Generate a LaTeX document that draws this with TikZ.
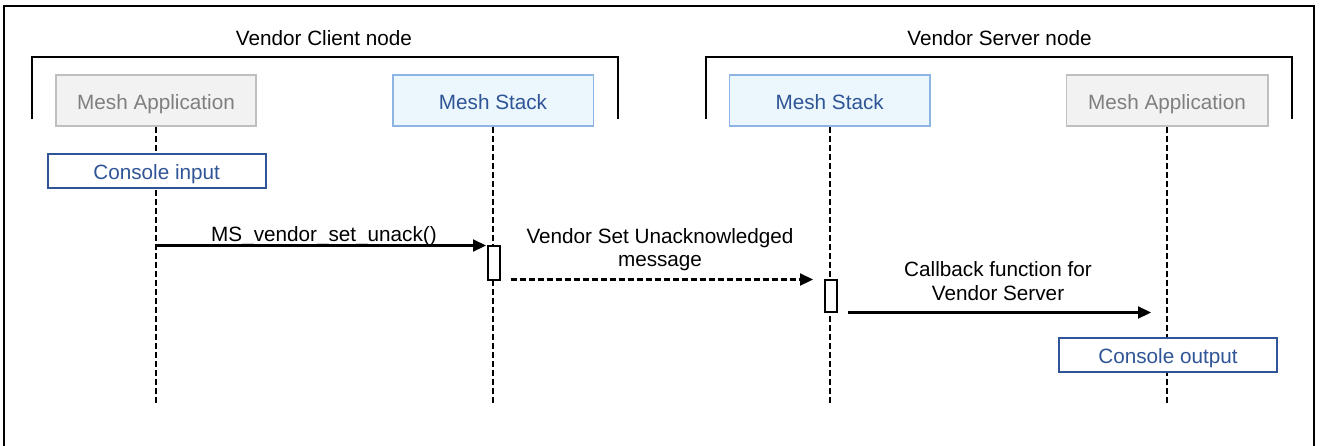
\documentclass[tikz,border=0pt]{standalone}
\usepackage{fontspec}
\setmainfont{Liberation Sans}
\usetikzlibrary{arrows.meta,backgrounds}
\definecolor{appfill}{HTML}{F2F2F2}
\definecolor{appdraw}{HTML}{BFBFBF}
\definecolor{apptext}{HTML}{7F7F7F}
\definecolor{stkfill}{HTML}{EBF7FD}
\definecolor{stkdraw}{HTML}{8EB4E3}
\definecolor{blutext}{HTML}{2F5597}
\begin{document}
\begin{tikzpicture}[x=1pt,y=-1pt,
  lbl/.style={font=\fontsize{20.7}{23}\selectfont, inner sep=0pt, anchor=base},
  boxbase/.style={font=\fontsize{20.7}{23}\selectfont, inner sep=0pt, text height=17pt, text depth=0pt, minimum height=51pt, line width=1.6pt},
  appbox/.style={boxbase, fill=appfill, draw=appdraw, text=apptext},
  stkbox/.style={boxbase, fill=stkfill, draw=stkdraw, text=blutext},
  conbox/.style={boxbase, minimum height=34pt, fill=white, draw=blutext, text=blutext, line width=2.2pt},
  actbox/.style={draw=black, fill=white, line width=1.7pt, minimum width=12pt, minimum height=34pt, inner sep=0pt},
  frameline/.style={line width=2.4pt, draw=black},
  bracket/.style={line width=2.2pt, draw=black},
  life/.style={line width=1.9pt, dash pattern=on 6pt off 3pt},
  msg/.style={line width=2.1pt, -{Triangle[length=13pt,width=12pt]}},
  dmsg/.style={line width=2.2pt, dash pattern=on 6pt off 3pt, -{Triangle[length=13pt,width=12pt]}}
]
\useasboundingbox (0,0) rectangle (1322,445);
% outer frame (open at bottom)
\draw[frameline] (4,447) -- (4,6) -- (1314,6) -- (1314,447);

% titles
\node[lbl] (tclient) at (324,45) {Vendor Client node};
\node[lbl] (tserver) at (999.5,45) {Vendor Server node};

% brackets
\draw[bracket] (31.7,119.3) -- (31.7,57.3) -- (617.7,57.3) -- (617.7,119.3);
\draw[bracket] (706,119.3) -- (706,57.3) -- (1292.3,57.3) -- (1292.3,119.3);

% participant boxes
\node[appbox, minimum width=200pt] (app1) at (156,100.5) {Mesh Application};
\node[stkbox, minimum width=200.6pt] (stk1) at (493,100.5) {Mesh Stack};
\node[stkbox, minimum width=200.7pt] (stk2) at (829.7,100.5) {Mesh Stack};
\node[appbox, minimum width=201.4pt] (app2) at (1167,100.5) {Mesh Application};

% console boxes
\node[conbox, minimum width=218pt] (cin) at (156.7,170.7) {Console input};
\node[conbox, minimum width=217.7pt] (cout) at (1168,355) {Console output};

% activation boxes
\node[actbox] (act1) at (493.8,263) {};
\node[actbox, minimum height=32.5pt] (act2) at (830.8,296) {};

% lifeline ends
\coordinate (e1) at (156,404);
\coordinate (e2) at (493,404);
\coordinate (e3) at (829.7,404);
\coordinate (e4) at (1167,404);

\begin{scope}[on background layer]
\draw[life] (app1.south) -- (app1.south |- e1);
\draw[life] (stk1.south) -- (stk1.south |- e2);
\draw[life] (stk2.south) -- (stk2.south |- e3);
\draw[life] (app2.south) -- (app2.south |- e4);
\end{scope}

% messages
\coordinate (m1s) at (156,245.5);
\coordinate (m1e) at (486,245.5);
\draw[msg] (m1s) -- (m1e);
\node[lbl] (l1) at (324,241) {MS\_vendor\_set\_unack()};

\coordinate (m2s) at (510.5,279.5);
\coordinate (m2e) at (813,279.5);
\draw[dmsg] (m2s) -- (m2e);
\node[lbl] (l2a) at (660,243) {Vendor Set Unacknowledged};
\node[lbl] (l2b) at (660,266) {message};

\coordinate (m3s) at (847.7,312.5);
\coordinate (m3e) at (1151,312.5);
\draw[msg] (m3s) -- (m3e);
\node[lbl] (l3a) at (998,276) {Callback function for};
\node[lbl] (l3b) at (998,300) {Vendor Server};
\end{tikzpicture}
\end{document}
